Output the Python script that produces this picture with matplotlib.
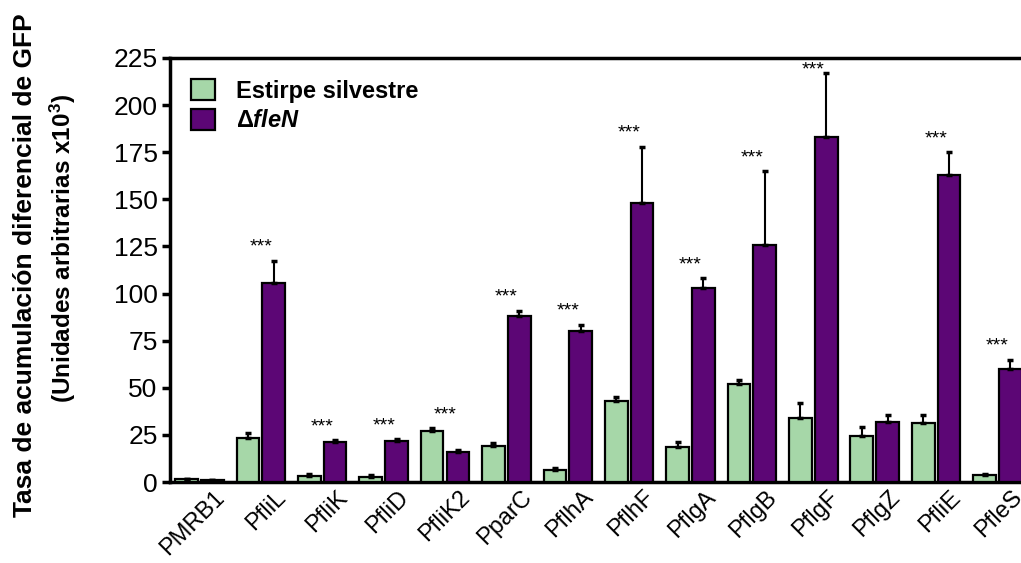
import numpy as np
import matplotlib
matplotlib.use("Agg")
from matplotlib import pyplot as plt
from matplotlib.transforms import ScaledTranslation

plt.rcParams['font.family'] = ['Liberation Sans', 'DejaVu Sans']
plt.rcParams['mathtext.fontset'] = 'custom'
plt.rcParams['mathtext.rm'] = 'Liberation Sans:bold'
plt.rcParams['mathtext.it'] = 'Liberation Sans:bold:italic'
plt.rcParams['mathtext.bf'] = 'Liberation Sans:bold'

promoters = ["PMRB1", "PfliL", "PfliK", "PfliD", "PfliK2", "PparC", "PflhA",
             "PflhF", "PflgA", "PflgB", "PflgF", "PflgZ", "PfliE", "PfleS"]
wild = [1.5, 23.4, 3.4, 2.8, 27.0, 19.3, 6.4, 43.0, 18.7, 51.8, 34.1, 24.4, 31.1, 3.5]
wild_err = [0.3, 2.6, 1.0, 0.7, 1.8, 1.4, 0.9, 2.3, 2.7, 2.2, 7.9, 4.6, 4.5, 0.7]
mutant = [1.0, 105.5, 21.0, 21.8, 16.0, 88.0, 80.0, 148.0, 103.0, 126.0, 183.0, 32.0, 163.0, 60.0]
mutant_err = [0.3, 12.0, 1.3, 1.0, 0.8, 3.0, 3.5, 30.0, 5.0, 39.0, 34.0, 3.6, 12.0, 5.0]
signif = ["", "***", "***", "***", "***", "***", "***", "***", "***", "***", "***", "", "***", "***"]

green = "#a6d7a8"
purple = "#5c0675"

fig = plt.figure(figsize=(10.21, 5.63), dpi=100)
ax = fig.add_axes([170 / 1021, 81 / 563, 1 - 170 / 1021 + 0.01, (482 - 58) / 563])

x = np.arange(len(promoters))
w = 0.37
off = 0.21
ekw = dict(ecolor="black", elinewidth=1.5, capsize=2.5, capthick=2.5)
ax.bar(x - off, wild, w, color=green, edgecolor="black", linewidth=1.6,
       yerr=[np.zeros(len(wild)), wild_err], error_kw=ekw,
       label="Estirpe silvestre", zorder=3)
ax.bar(x + off, mutant, w, color=purple, edgecolor="black", linewidth=1.6,
       yerr=[np.zeros(len(mutant)), mutant_err], error_kw=ekw,
       label=r"$\Delta\mathit{fleN}$", zorder=3)

# stars sit just above the taller bar, but stay under the top frame
for i, s in enumerate(signif):
    if s:
        top = max(wild[i] + wild_err[i], mutant[i] + mutant_err[i])
        ax.text(x[i], min(top + 7, 218.5), s, ha="center", va="center", fontsize=14)

ax.set_ylim(0, 225)
ax.set_xlim(-0.48, 13.55)
ax.set_yticks(np.arange(0, 226, 25))
ax.tick_params(axis="y", labelsize=19, width=2.5, length=6, direction="out", pad=3)
ax.tick_params(axis="x", length=0, pad=3)
ax.set_xticks(x)
ax.set_xticklabels(promoters, rotation=45, ha="right", rotation_mode="anchor", fontsize=17)
shift = ScaledTranslation(14 / 100, 0, fig.dpi_scale_trans)
for lbl in ax.get_xticklabels():
    lbl.set_transform(lbl.get_transform() + shift)
for sp in ["left", "bottom", "top"]:
    ax.spines[sp].set_linewidth(2.5)
ax.spines["right"].set_visible(False)

fig.text(25 / 1021, 1 - 265 / 563, "Tasa de acumulación diferencial de GFP",
         rotation=90, ha="center", va="center", fontsize=19, fontweight="bold")
fig.text(63 / 1021, 1 - 249 / 563, "(Unidades arbitrarias x10$^3$)",
         rotation=90, ha="center", va="center", fontsize=17.5, fontweight="bold")

ax.legend(loc="upper left", frameon=False, handlelength=1.0, handleheight=1.0,
          prop=dict(weight="bold", size=17), borderaxespad=0.5, labelspacing=0.25,
          handletextpad=0.9)

fig.savefig("out.png", dpi=100)
